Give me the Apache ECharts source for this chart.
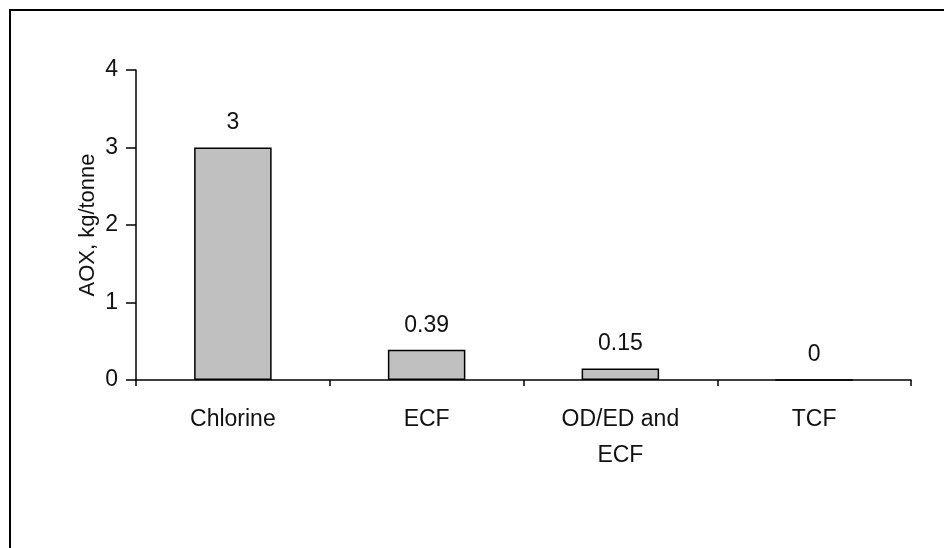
<!DOCTYPE html>
<html>
<head>
<meta charset="utf-8">
<script src="https://cdn.jsdelivr.net/npm/echarts@6/dist/echarts.min.js"></script>
<style>
html,body{margin:0;padding:0;background:#fff;}
#c{width:944px;height:548px;}
</style>
</head>
<body>
<div id="c"></div>
<script>
const categories = ['Chlorine', 'ECF', 'OD/ED and\nECF', 'TCF'];
const aoxValues = [3, 0.39, 0.15, 0];
const yTicks = [0, 1, 2, 3, 4];
const yAxisTitle = 'AOX, kg/tonne';

const FONT = '"Liberation Sans", Arial, sans-serif';
const chart = echarts.init(document.getElementById('c'), null, {renderer: 'canvas'});
chart.setOption({
  backgroundColor: '#ffffff',
  animation: false,
  graphic: [{
    type: 'rect',
    shape: {x: 10, y: 10, width: 960, height: 560},
    style: {fill: 'none', stroke: '#000', lineWidth: 2},
    silent: true
  }],
  grid: {left: 136, right: 33, top: 70, bottom: 168, containLabel: false},
  xAxis: {
    type: 'category',
    data: categories,
    axisLine: {lineStyle: {color: '#000', width: 1.5}},
    axisTick: {show: true, length: 6, lineStyle: {color: '#000', width: 1.5}},
    axisLabel: {color: '#111', fontFamily: FONT, fontSize: 23, lineHeight: 36, margin: 22, interval: 0}
  },
  yAxis: {
    type: 'value',
    min: yTicks[0],
    max: yTicks[yTicks.length - 1],
    interval: 1,
    name: yAxisTitle,
    nameLocation: 'middle',
    nameRotate: 90,
    nameGap: 37,
    nameMoveOverlap: false,
    nameTextStyle: {color: '#111', fontFamily: FONT, fontSize: 22},
    splitLine: {show: false},
    axisLine: {show: true, lineStyle: {color: '#000', width: 1.5}},
    axisTick: {show: true, length: 10, inside: false, lineStyle: {color: '#000', width: 1.5}},
    axisLabel: {color: '#111', fontFamily: FONT, fontSize: 23, margin: 18}
  },
  series: [{
    type: 'bar',
    data: aoxValues,
    barWidth: '40%',
    itemStyle: {color: '#c0c0c0', borderColor: '#000', borderWidth: 1.5},
    label: {
      show: true,
      position: 'top',
      distance: 13,
      color: '#111',
      fontFamily: FONT,
      fontSize: 23
    }
  }]
});
</script>
</body>
</html>
